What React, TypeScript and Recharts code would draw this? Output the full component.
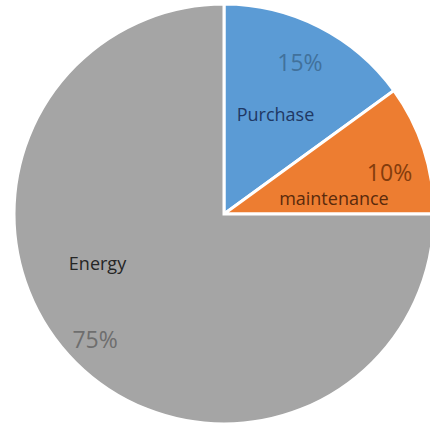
import { Cell, Pie, PieChart } from "recharts";

const categories = ["Purchase", "maintenance", "Energy"];
const shares = [15, 10, 75];
const colors = ["#5B9BD5", "#ED7D31", "#A5A5A5"];

const data = categories.map((name, i) => ({ name, value: shares[i] }));

// where each slice's two texts sit, as (radius fraction, angle offset from midAngle)
const labelPlacement: Record<string, { nameR: number; nameDA: number; pctR: number; pctDA: number; nameColor: string; pctColor: string }> = {
  Purchase: { nameR: 0.536, nameDA: -0.25, pctR: 0.809, pctDA: 0.43, nameColor: "#1F3864", pctColor: "#41719C" },
  maintenance: { nameR: 0.529, nameDA: -9.7, pctR: 0.813, pctDA: -3.8, nameColor: "#5A2A0C", pctColor: "#843C0C" },
  Energy: { nameR: 0.646, nameDA: -23.8, pctR: 0.855, pctDA: -0.9, nameColor: "#262626", pctColor: "#6E6E6E" },
};

const RADIAN = Math.PI / 180;

const renderLabel = (props: any) => {
  const { cx, cy, midAngle, outerRadius, name, value } = props;
  const p = labelPlacement[name];
  const at = (r: number, a: number) => ({
    x: cx + outerRadius * r * Math.cos(-(midAngle + a) * RADIAN),
    y: cy + outerRadius * r * Math.sin(-(midAngle + a) * RADIAN),
  });
  const n = at(p.nameR, p.nameDA);
  const v = at(p.pctR, p.pctDA);
  return (
    <g>
      <text x={n.x} y={n.y} fill={p.nameColor} fontSize={18} textAnchor="middle" dominantBaseline="central">
        {name}
      </text>
      <text x={v.x} y={v.y} fill={p.pctColor} fontSize={23} textAnchor="middle" dominantBaseline="central">
        {`${value}%`}
      </text>
    </g>
  );
};

export default function App() {
  return (
    <div
      style={{
        position: "fixed",
        top: 0,
        left: 0,
        width: 430,
        height: 430,
        background: "#fff",
        fontFamily: "'Open Sans', sans-serif",
      }}
    >
      <PieChart width={430} height={430} margin={{ top: 0, right: 0, bottom: 0, left: 0 }}>
        <Pie
          data={data}
          dataKey="value"
          nameKey="name"
          cx={224}
          cy={214}
          outerRadius={210}
          startAngle={90}
          endAngle={-270}
          stroke="#fff"
          strokeWidth={3}
          label={renderLabel}
          labelLine={false}
          isAnimationActive={false}
        >
          {data.map((d, i) => (
            <Cell key={d.name} fill={colors[i]} />
          ))}
        </Pie>
      </PieChart>
    </div>
  );
}
